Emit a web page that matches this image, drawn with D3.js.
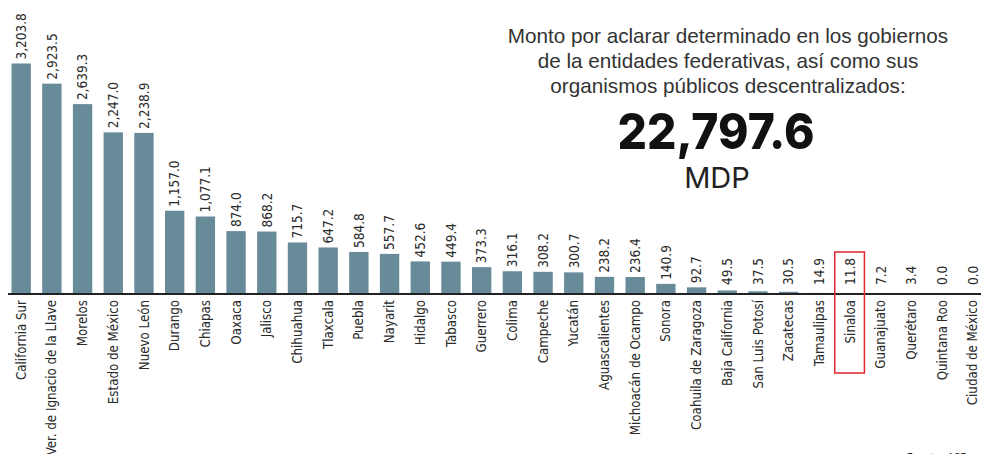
<!DOCTYPE html>
<html>
<head>
<meta charset="utf-8">
<title>Monto por aclarar</title>
<style>
  body { margin: 0; background: #fff; }
  svg { display: block; }
  .bar { fill: #688b9a; }
  .lbl { font-family: "Liberation Sans Narrow", "DejaVu Sans Condensed", "Liberation Sans", sans-serif; fill: #2b2b2b; }
  .titulo { font-family: "Liberation Sans", "Open Sans", sans-serif; fill: #333; font-size: 20.7px; }
</style>
</head>
<body>
<svg width="981" height="454"></svg>
<script src="https://cdnjs.cloudflare.com/ajax/libs/d3/7.8.5/d3.min.js"></script>
<script>
// entidades federativas, en el orden de la gráfica
const estados = ["California Sur", "Ver. de Ignacio de la Llave", "Morelos", "Estado de México", "Nuevo León",
  "Durango", "Chiapas", "Oaxaca", "Jalisco", "Chihuahua", "Tlaxcala", "Puebla", "Nayarit", "Hidalgo",
  "Tabasco", "Guerrero", "Colima", "Campeche", "Yucatán", "Aguascalientes", "Michoacán de Ocampo",
  "Sonora", "Coahuila de Zaragoza", "Baja California", "San Luis Potosí", "Zacatecas", "Tamaulipas",
  "Sinaloa", "Guanajuato", "Querétaro", "Quintana Roo", "Ciudad de México"];
// monto por aclarar (millones de pesos)
const montos = [3203.8, 2923.5, 2639.3, 2247.0, 2238.9, 1157.0, 1077.1, 874.0, 868.2, 715.7, 647.2, 584.8,
  557.7, 452.6, 449.4, 373.3, 316.1, 308.2, 300.7, 238.2, 236.4, 140.9, 92.7, 49.5, 37.5, 30.5, 14.9,
  11.8, 7.2, 3.4, 0.0, 0.0];
const titulo = ["Monto por aclarar determinado en los gobiernos",
  "de la entidades federativas, así como sus",
  "organismos públicos descentralizados:"];
const total = "22,797.6";
const unidad = "MDP";
const resaltado = "Sinaloa";

const datos = estados.map((e, i) => ({ estado: e, monto: montos[i] }));

const svg = d3.select("svg");
const base = 294;

const x = d3.scaleBand()
  .domain(estados)
  .range([11.5, 11.5 + 30.7 * (estados.length - 0.37)])
  .paddingInner(0.37)
  .paddingOuter(0);

const y = d3.scaleLinear()
  .domain([0, d3.max(montos)])
  .range([base, 63.5]);

const fmt = v => v >= 1000 ? d3.format(",.1f")(v) : d3.format(".1f")(v);

// barras
svg.append("g").selectAll("rect")
  .data(datos)
  .join("rect")
  .attr("class", "bar")
  .attr("x", d => x(d.estado))
  .attr("y", d => y(d.monto))
  .attr("width", x.bandwidth())
  .attr("height", d => base - y(d.monto));

// linea base
svg.append("line")
  .attr("x1", 8).attr("x2", 981)
  .attr("y1", base).attr("y2", base)
  .attr("stroke", "#222").attr("stroke-width", 2);

// valores arriba de cada barra
svg.append("g").selectAll("text")
  .data(datos)
  .join("text")
  .attr("class", "lbl")
  .attr("font-size", 13.5)
  .attr("text-anchor", "start")
  .attr("dy", "0.35em")
  .attr("transform", d => "translate(" + (x(d.estado) + x.bandwidth() / 2) + "," + Math.min(y(d.monto) - 4, 285) + ") rotate(-90)")
  .text(d => fmt(d.monto));

// nombres de las entidades
svg.append("g").selectAll("text")
  .data(datos)
  .join("text")
  .attr("class", "lbl")
  .attr("font-size", 13.2)
  .attr("text-anchor", "end")
  .attr("dy", "0.35em")
  .attr("transform", d => "translate(" + (x(d.estado) + x.bandwidth() / 2) + "," + (base + 6) + ") rotate(-90)")
  .text(d => d.estado);

// recuadro rojo para Sinaloa
const paso = x.step();
svg.append("rect")
  .attr("x", x(resaltado) + x.bandwidth() / 2 - paso / 2)
  .attr("y", 252)
  .attr("width", paso - 1)
  .attr("height", 121)
  .attr("fill", "none")
  .attr("stroke", "#e0262c")
  .attr("stroke-width", 1.5);

// titulo
svg.append("g").selectAll("text")
  .data(titulo)
  .join("text")
  .attr("class", "titulo")
  .attr("x", 728)
  .attr("y", (d, i) => 43 + i * 25)
  .attr("text-anchor", "middle")
  .text(d => d);

svg.append("text")
  .attr("x", 716).attr("y", 149)
  .attr("text-anchor", "middle")
  .attr("textLength", 197)
  .attr("lengthAdjust", "spacingAndGlyphs")
  .style("font-family", "Inter, 'Open Sans', sans-serif")
  .style("font-weight", 800)
  .style("font-size", "50px")
  .attr("fill", "#111")
  .text(total);

svg.append("text")
  .attr("x", 717).attr("y", 188)
  .attr("text-anchor", "middle")
  .style("font-family", "Inter, 'Open Sans', sans-serif")
  .style("font-size", "29px")
  .attr("fill", "#222")
  .text(unidad);

svg.append("text")
  .attr("x", 907).attr("y", 461)
  .attr("class", "lbl")
  .attr("font-size", 11)
  .text("Fuente: ASF");
</script>
</body>
</html>
